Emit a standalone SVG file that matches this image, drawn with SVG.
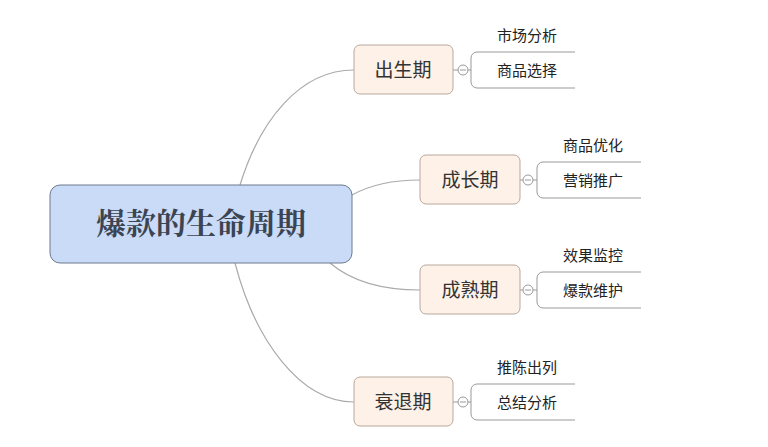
<svg xmlns="http://www.w3.org/2000/svg" width="768" height="447" viewBox="0 0 768 447">
<style>
.sub{fill:#fdf1e8;stroke:#b8a89c;stroke-width:1}
.st{font-family:"Noto Sans CJK SC",sans-serif;font-size:19px;fill:#333;text-anchor:middle}
.lt{font-family:"Noto Sans CJK SC",sans-serif;font-size:15px;fill:#222;text-anchor:middle}
.br{fill:none;stroke:#999;stroke-width:1}
.c{fill:#fff;stroke:#999;stroke-width:1}
.cn{fill:none;stroke:#aaa;stroke-width:1.2}
</style>
<rect width="768" height="447" fill="#fff"/>
<g id="connectors">
<path class="cn" d="M240,185 C260,120 300,70 354,70"/>
<path class="cn" d="M352,195 C370,185 390,180 420,180"/>
<path class="cn" d="M330,263 C350,280 380,290 420,290"/>
<path class="cn" d="M235,263 C255,340 300,402 354,402"/>
<path class="br" d="M453,70 H471 M520,180 H537 M520,290 H537 M453,402 H471"/>
</g>
<g id="center">
<rect x="50" y="185" width="302" height="78" rx="10" fill="#c9dbf7" stroke="#6c7a90" stroke-width="1"/>
<text x="201" y="234" font-family="Noto Serif CJK SC,Noto Sans CJK SC,serif" font-size="30" font-weight="bold" fill="#3c4452" text-anchor="middle">爆款的生命周期</text>
</g>
<g id="n1">
<rect class="sub" x="354" y="45" width="99" height="49" rx="6"/>
<text class="st" x="403" y="77">出生期</text>
<circle class="c" cx="463" cy="70" r="5"/><path d="M460,70h6" stroke="#999"/>
<path class="br" d="M575,52 H477 a6,6 0 0 0 -6,6 V82 a6,6 0 0 0 6,6 H575"/>
<text class="lt" x="527" y="41">市场分析</text>
<text class="lt" x="527" y="76">商品选择</text>
</g>
<g id="n2">
<rect class="sub" x="420" y="155" width="100" height="49" rx="6"/>
<text class="st" x="470" y="187">成长期</text>
<circle class="c" cx="528" cy="180" r="5"/><path d="M525,180h6" stroke="#999"/>
<path class="br" d="M641,162 H543 a6,6 0 0 0 -6,6 V192 a6,6 0 0 0 6,6 H641"/>
<text class="lt" x="593" y="151">商品优化</text>
<text class="lt" x="593" y="186">营销推广</text>
</g>
<g id="n3">
<rect class="sub" x="420" y="265" width="100" height="49" rx="6"/>
<text class="st" x="470" y="297">成熟期</text>
<circle class="c" cx="528" cy="290" r="5"/><path d="M525,290h6" stroke="#999"/>
<path class="br" d="M641,272 H543 a6,6 0 0 0 -6,6 V302 a6,6 0 0 0 6,6 H641"/>
<text class="lt" x="593" y="261">效果监控</text>
<text class="lt" x="593" y="296">爆款维护</text>
</g>
<g id="n4">
<rect class="sub" x="354" y="377" width="99" height="49" rx="6"/>
<text class="st" x="403" y="409">衰退期</text>
<circle class="c" cx="463" cy="402" r="5"/><path d="M460,402h6" stroke="#999"/>
<path class="br" d="M575,384 H477 a6,6 0 0 0 -6,6 V414 a6,6 0 0 0 6,6 H575"/>
<text class="lt" x="527" y="373">推陈出列</text>
<text class="lt" x="527" y="408">总结分析</text>
</g>
</svg>
